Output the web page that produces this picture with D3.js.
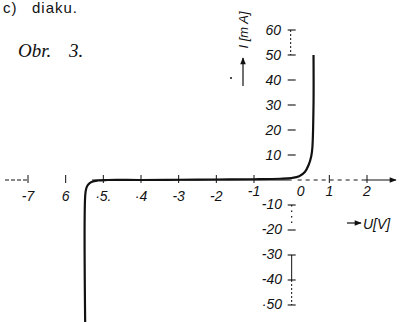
<!DOCTYPE html>
<html><head><meta charset="utf-8">
<script src="https://cdn.jsdelivr.net/npm/d3@7"></script>
<style>body{margin:0;background:#fff}svg{display:block}</style>
</head><body>
<svg id="c" width="400" height="322"></svg>
<script>
// data: diode (Zener-like) V-A characteristic
const voltage = [-5.48, -5.48, -5.45, -5.40, -5.30, -5.15, -4.9, -4, -3, -2, -1, -0.3, 0, 0.2, 0.35, 0.45, 0.52, 0.55, 0.58, 0.58];
const current = [-60, -6, -3.2, -1.8, -0.7, -0.2, 0, 0, 0.1, 0.2, 0.3, 0.5, 0.8, 1.5, 3.2, 6, 9.5, 13, 30, 50];
const xTicks = [-7, -6, -5, -4, -3, -2, -1, 0, 1, 2];
const xTickLabels = ["-7", "6", "·5.", "·4", "-3", "-2", "-1", "0", "1", "2"];
const yTicksPos = [60, 50, 40, 30, 20, 10];
const yTickLabelsPos = ["60", "50", "40", "30", "20", "10"];
const yTicksNeg = [-10, -20, -30, -40, -50];
const yTickLabelsNeg = ["-10", "-20", "-30", "-40", "·50"];

const svg = d3.select("#c");
const x = d3.scaleLinear().domain([-7, 2]).range([28, 367]);
const y = d3.scaleLinear().domain([-50, 60]).range([305, 30]);
const x0 = x(0), y0 = y(0);
const ink = "#111";
const numFont = "'Liberation Sans', Arial, sans-serif";

// header texts
svg.append("text").attr("x", 3).attr("y", 13).attr("font-family", numFont)
  .attr("font-size", 15).attr("letter-spacing", 1).attr("fill", ink).text("c)");
svg.append("text").attr("x", 32).attr("y", 13).attr("font-family", numFont)
  .attr("font-size", 15).attr("letter-spacing", 1).attr("fill", ink).text("diaku.");
svg.append("text").attr("x", 18).attr("y", 57).attr("font-family", "'Liberation Serif', serif")
  .attr("font-style", "italic").attr("font-size", 19).attr("fill", ink).text("Obr.");
svg.append("text").attr("x", 69).attr("y", 57).attr("font-family", "'Liberation Serif', serif")
  .attr("font-style", "italic").attr("font-size", 19).attr("fill", ink).text("3.");

// arrow marker
const defs = svg.append("defs");
defs.append("marker").attr("id", "ah").attr("viewBox", "0 0 10 10").attr("refX", 9).attr("refY", 5)
  .attr("markerWidth", 8).attr("markerHeight", 7).attr("markerUnits", "userSpaceOnUse").attr("orient", "auto")
  .append("path").attr("d", "M0,1 L10,5 L0,9 Z").attr("fill", ink);

// x axis segments
const ax = svg.append("g").attr("stroke", ink).attr("fill", "none");
ax.append("line").attr("x1", 5).attr("x2", x(-7)).attr("y1", y0).attr("y2", y0)
  .attr("stroke-width", 1).attr("stroke-dasharray", "4,2");
ax.append("line").attr("x1", x(-5.3)).attr("x2", x0).attr("y1", y0).attr("y2", y0).attr("stroke-width", 1);
ax.append("line").attr("x1", x0 + 6).attr("x2", x(1.9)).attr("y1", y0).attr("y2", y0)
  .attr("stroke-width", 1).attr("stroke-dasharray", "4,4");
ax.append("line").attr("x1", x(1.9)).attr("x2", 396).attr("y1", y0).attr("y2", y0)
  .attr("stroke-width", 1.1).attr("marker-end", "url(#ah)");
// x ticks
ax.selectAll(".xt").data(xTicks.filter(d => d !== 0)).join("line")
  .attr("x1", d => x(d)).attr("x2", d => x(d)).attr("y1", y0 - 5).attr("y2", y0 + 3).attr("stroke-width", 1);
// x labels
svg.selectAll(".xl").data(xTicks).join("text")
  .attr("x", d => d === 0 ? x(d) + 9 : x(d))
  .attr("y", d => d >= -1 ? 196 : 201)
  .attr("text-anchor", "middle").attr("font-family", numFont).attr("font-style", "italic")
  .attr("font-size", 14).attr("fill", ink).text((d, i) => xTickLabels[i]);

// y axis
ax.append("line").attr("x1", x0 - 1).attr("x2", x0 - 1).attr("y1", y(60)).attr("y2", y(50))
  .attr("stroke-width", 1).attr("stroke-dasharray", "2,2");
ax.append("line").attr("x1", x0).attr("x2", x0).attr("y1", y(-10)).attr("y2", y(-20) - 4)
  .attr("stroke-width", 1.2).attr("stroke-dasharray", "1.5,4");
ax.append("line").attr("x1", x0).attr("x2", x0).attr("y1", y(-30)).attr("y2", y(-40))
  .attr("stroke-width", 1);
ax.append("line").attr("x1", x0).attr("x2", x0).attr("y1", y(-40)).attr("y2", y(-50))
  .attr("stroke-width", 1).attr("stroke-dasharray", "2,2");
const yAll = yTicksPos.concat(yTicksNeg);
ax.selectAll(".yt").data(yAll).join("line")
  .attr("x1", x0 - 4).attr("x2", x0 + 4).attr("y1", d => y(d)).attr("y2", d => y(d)).attr("stroke-width", 1.1);
svg.selectAll(".ylp").data(yTicksPos).join("text")
  .attr("x", 281).attr("y", d => y(d) + 5).attr("text-anchor", "end")
  .attr("font-family", numFont).attr("font-style", "italic").attr("font-size", 14).attr("fill", ink)
  .text((d, i) => yTickLabelsPos[i]);
svg.selectAll(".yln").data(yTicksNeg).join("text")
  .attr("x", 282).attr("y", d => y(d) + 4).attr("text-anchor", "end")
  .attr("font-family", numFont).attr("font-style", "italic").attr("font-size", 14).attr("fill", ink)
  .text((d, i) => yTickLabelsNeg[i]);

// y axis title
svg.append("text").attr("transform", "translate(248,30) rotate(-90)")
  .attr("text-anchor", "middle").attr("font-family", numFont).attr("font-style", "italic")
  .attr("font-size", 13).attr("fill", ink).text("I [m A]");
svg.append("line").attr("x1", 243).attr("x2", 243).attr("y1", 86).attr("y2", 58)
  .attr("stroke", ink).attr("stroke-width", 1.2).attr("marker-end", "url(#ah)");
svg.append("circle").attr("cx", 231).attr("cy", 78).attr("r", 1).attr("fill", ink);

// x axis title
svg.append("line").attr("x1", 347).attr("x2", 361).attr("y1", 223).attr("y2", 223)
  .attr("stroke", ink).attr("stroke-width", 1.2).attr("marker-end", "url(#ah)");
svg.append("text").attr("x", 363).attr("y", 229).attr("font-family", numFont).attr("font-style", "italic")
  .attr("font-size", 14).attr("fill", ink).text("U[V]");

// characteristic curve
const pts = voltage.map((v, i) => [v, current[i]]);
const line = d3.line().x(d => x(d[0])).y(d => y(d[1])).curve(d3.curveMonotoneY);
svg.append("path").datum(pts)
  .attr("d", d3.line().x(d => x(d[0])).y(d => y(d[1])).curve(d3.curveCatmullRom.alpha(0.5)))
  .attr("fill", "none").attr("stroke", ink).attr("stroke-width", 2.2).attr("stroke-linejoin", "round");
</script>
</body></html>
